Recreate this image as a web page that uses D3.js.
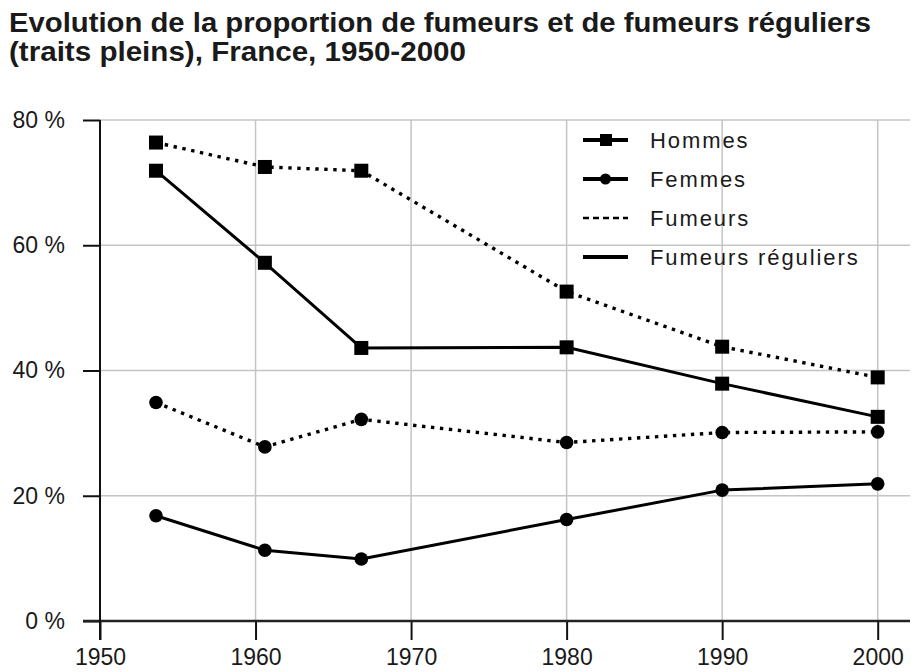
<!DOCTYPE html>
<html>
<head>
<meta charset="utf-8">
<script src="https://cdn.jsdelivr.net/npm/d3@7"></script>
<style>
  body { margin: 0; background: #fff; }
  svg { display: block; }
</style>
</head>
<body>
<div class="chart"></div>
<script>
// données
const years = [1953.6, 1960.6, 1966.8, 1980, 1990, 2000];
const hommesFumeurs = [76.4, 72.5, 71.9, 52.6, 43.8, 38.9];
const hommesReguliers = [71.9, 57.2, 43.6, 43.7, 37.9, 32.6];
const femmesFumeurs = [34.9, 27.8, 32.2, 28.5, 30.1, 30.2];
const femmesReguliers = [16.8, 11.3, 9.9, 16.2, 20.9, 21.9];
const yTicks = [0, 20, 40, 60, 80];
const xTicks = [1950, 1960, 1970, 1980, 1990, 2000];
const legendLabels = ['Hommes', 'Femmes', 'Fumeurs', 'Fumeurs réguliers'];
const titleLines = [
    'Evolution de la proportion de fumeurs et de fumeurs réguliers',
    '(traits pleins), France, 1950-2000'
];

const width = 917,
    height = 672,
    plotLeft = 100,
    plotRight = 910,
    plotTop = 120,
    plotBottom = 621;

const svg = d3.select('.chart')
    .append('svg')
    .attr('width', width)
    .attr('height', height);

const x = d3.scaleLinear().domain([1950, 2000]).range([plotLeft, 877.7]);
const y = d3.scaleLinear().domain([0, 80]).range([plotBottom, plotTop]);

// titre (police étroite et grasse dans l'original)
const titleWidths = [862, 457];
svg.append('g')
    .selectAll('text')
    .data(titleLines)
    .enter()
    .append('text')
    .attr('x', 9)
    .attr('y', (d, i) => 32 + i * 29)
    .attr('textLength', (d, i) => titleWidths[i])
    .attr('lengthAdjust', 'spacingAndGlyphs')
    .style('font-family', '"Liberation Sans", Arial, sans-serif')
    .style('font-weight', 'bold')
    .style('font-size', '27px')
    .style('fill', '#1a1a1a')
    .text(d => d);

// grille
svg.append('g')
    .selectAll('line')
    .data(yTicks.filter(d => d > 0))
    .enter()
    .append('line')
    .attr('x1', plotLeft)
    .attr('x2', plotRight)
    .attr('y1', d => y(d))
    .attr('y2', d => y(d))
    .style('stroke', '#c4c4c4')
    .style('stroke-width', 1.5);

svg.append('g')
    .selectAll('line')
    .data(xTicks.slice(1))
    .enter()
    .append('line')
    .attr('x1', d => x(d))
    .attr('x2', d => x(d))
    .attr('y1', plotTop)
    .attr('y2', plotBottom)
    .style('stroke', '#c4c4c4')
    .style('stroke-width', 1.5);

// axes
const yAxis = d3.axisLeft(y)
    .tickValues(yTicks)
    .tickSize(17)
    .tickPadding(18)
    .tickFormat(d => d + ' %');

const gy = svg.append('g')
    .attr('transform', `translate(${plotLeft},0)`)
    .call(yAxis);

const xAxis = d3.axisBottom(x)
    .tickValues(xTicks)
    .tickSize(19)
    .tickPadding(9)
    .tickFormat(d3.format('d'));

const gx = svg.append('g')
    .attr('transform', `translate(0,${plotBottom})`)
    .call(xAxis);

[gx, gy].forEach(g => {
    g.select('.domain').remove();
    g.selectAll('.tick line').style('stroke', '#111').style('stroke-width', 2);
    g.selectAll('text')
        .style('font-family', '"Liberation Sans", Arial, sans-serif')
        .style('font-size', '23px')
        .style('fill', '#1a1a1a');
});

svg.append('line')
    .attr('x1', plotLeft - 17)
    .attr('x2', plotRight)
    .attr('y1', y(0))
    .attr('y2', y(0))
    .style('stroke', '#222')
    .style('stroke-width', 2.5);

svg.append('line')
    .attr('x1', plotLeft)
    .attr('x2', plotLeft)
    .attr('y1', y(80))
    .attr('y2', y(0) + 19)
    .style('stroke', '#111')
    .style('stroke-width', 2);

// séries
const series = [
    { values: hommesFumeurs, dotted: true, marker: 'square' },
    { values: hommesReguliers, dotted: false, marker: 'square' },
    { values: femmesFumeurs, dotted: true, marker: 'circle' },
    { values: femmesReguliers, dotted: false, marker: 'circle' }
];

const line = d3.line()
    .x((d, i) => x(years[i]))
    .y(d => y(d));

series.forEach(s => {
    svg.append('path')
        .datum(s.values)
        .attr('d', line)
        .style('fill', 'none')
        .style('stroke', '#000')
        .style('stroke-width', s.dotted ? 3.4 : 3)
        .style('stroke-dasharray', s.dotted ? '3.4,5.6' : null)
        .style('stroke-linejoin', 'round');
});

series.forEach(s => {
    const g = svg.append('g');
    if (s.marker === 'square') {
        g.selectAll('rect')
            .data(s.values)
            .enter()
            .append('rect')
            .attr('x', (d, i) => x(years[i]) - 7)
            .attr('y', d => y(d) - 7)
            .attr('width', 14)
            .attr('height', 14)
            .style('fill', '#000');
    } else {
        g.selectAll('circle')
            .data(s.values)
            .enter()
            .append('circle')
            .attr('cx', (d, i) => x(years[i]))
            .attr('cy', d => y(d))
            .attr('r', 6.8)
            .style('fill', '#000');
    }
});

// légende
const legend = svg.append('g')
    .attr('transform', 'translate(583,140)');

const rows = legend.selectAll('g')
    .data(legendLabels)
    .enter()
    .append('g')
    .attr('transform', (d, i) => `translate(0,${i * 39})`);

rows.append('line')
    .attr('x1', 0)
    .attr('x2', 45)
    .style('stroke', '#000')
    .style('stroke-width', (d, i) => i === 2 ? 2.6 : 4)
    .style('stroke-dasharray', (d, i) => i === 2 ? '6,4' : null);

rows.filter((d, i) => i === 0)
    .append('rect')
    .attr('x', 17)
    .attr('y', -6)
    .attr('width', 12)
    .attr('height', 12)
    .style('fill', '#000');

rows.filter((d, i) => i === 1)
    .append('circle')
    .attr('cx', 22.5)
    .attr('r', 5.5)
    .style('fill', '#000');

rows.append('text')
    .attr('x', 67)
    .attr('dy', '0.35em')
    .style('font-family', '"Liberation Sans", Arial, sans-serif')
    .style('font-size', '22px')
    .style('letter-spacing', '1.9px')
    .style('fill', '#1a1a1a')
    .text(d => d);
</script>
</body>
</html>
